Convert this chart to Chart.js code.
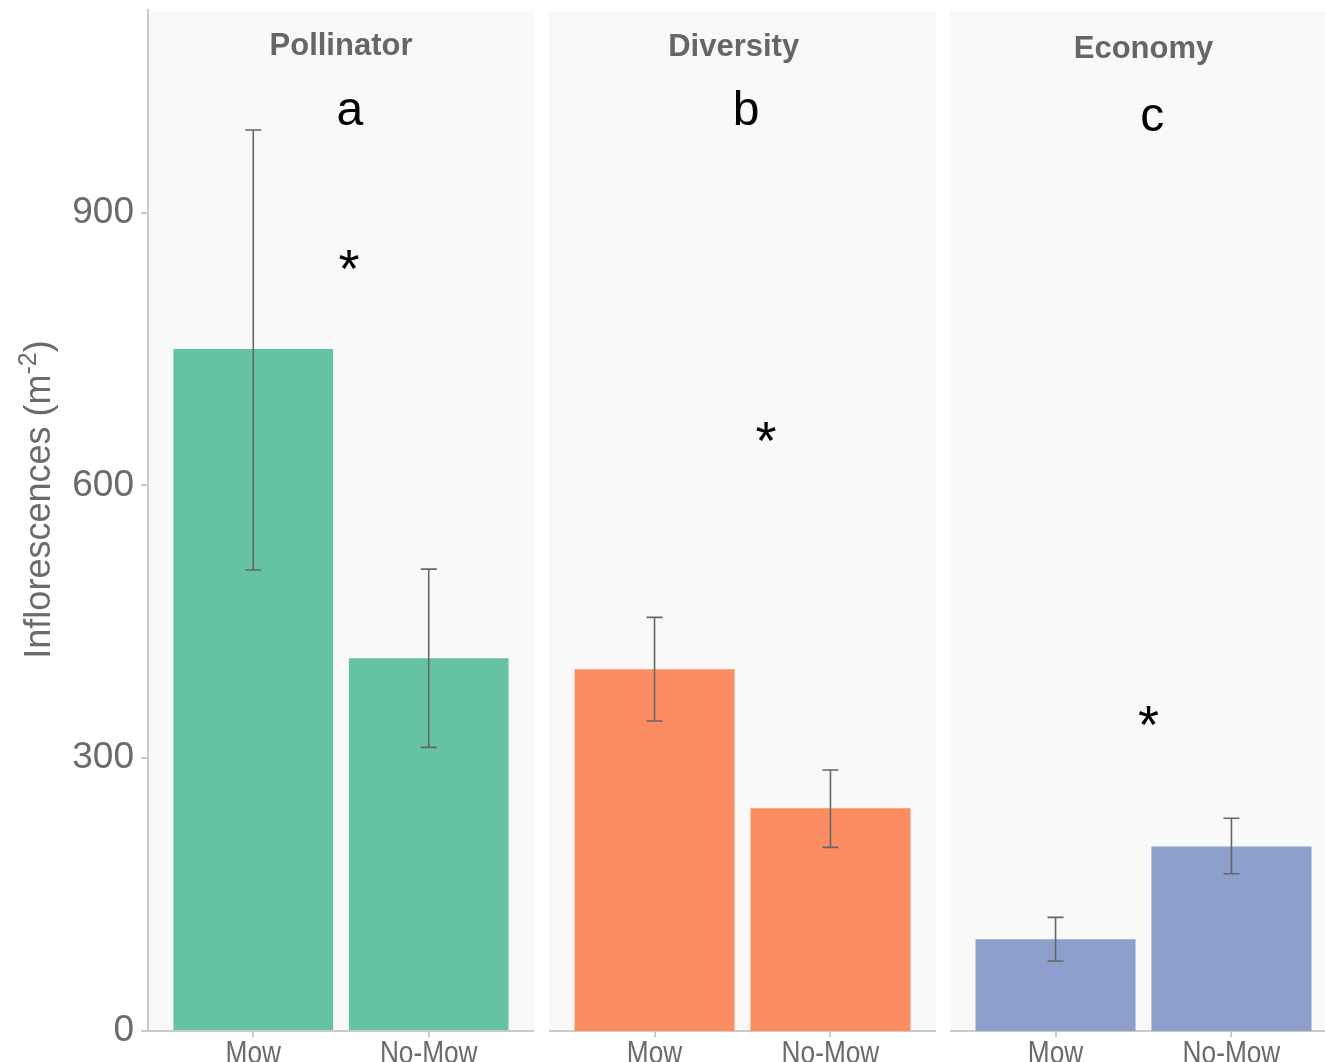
<!DOCTYPE html>
<html>
<head>
<meta charset="utf-8">
<title>Inflorescences by mowing treatment</title>
<script src="https://cdn.jsdelivr.net/npm/chart.js@4.4.1/dist/chart.umd.min.js"></script>
<style>
  html, body { margin: 0; padding: 0; background: #fff; overflow: hidden; }
  #wrap { position: relative; width: 1325px; height: 1062px; overflow: hidden; }
  canvas { position: absolute; top: 0; }
</style>
</head>
<body>
<div id="wrap">
  <canvas id="c0" width="534" height="1062" style="left:0px"></canvas>
  <canvas id="c1" width="387" height="1062" style="left:549px"></canvas>
  <canvas id="c2" width="387" height="1062" style="left:950px"></canvas>
</div>
<script>
// data
const panels = ['Pollinator', 'Diversity', 'Economy'];
const treatments = ['Mow', 'No-Mow'];
const means = [[750, 410], [398, 245], [101, 203]];
const lower = [[507, 312], [341, 202], [77, 173]];
const upper = [[991, 508], [455, 287], [125, 234]];
const colors = ['#66c2a5', '#fc8d62', '#8da0cb'];
const yTicks = [0, 300, 600, 900];
const Y_MAX = 1123;

// annotations (x in treatment units, y in data units)
const letters = ['a', 'b', 'c'];
const letterX = [0.55, 0.52, 0.55];
const letterY = [996, 996, 990];
const starX = [0.546, 0.634, 0.529];
const starY = [818, 629, 317];
const titleX = [0.5, 0.45, 0.5];
const titleY = [1074, 1072, 1070];

const FONT = '"Liberation Sans", Arial, sans-serif';
const GREY = '#6b6b6b';
const AXIS = '#cacaca';

const panelBg = {
  id: 'panelBg',
  beforeDraw(chart) {
    const { ctx, chartArea } = chart;
    ctx.save();
    ctx.fillStyle = '#f9f9f9';
    ctx.fillRect(chartArea.left, chartArea.top + 2, chartArea.width, chartArea.height - 2);
    ctx.restore();
  },
};

const errorBars = {
  id: 'errorBars',
  afterDatasetsDraw(chart) {
    const i = chart.options.panelIndex;
    const { ctx, scales } = chart;
    const meta = chart.getDatasetMeta(0);
    ctx.save();
    ctx.strokeStyle = '#666666';
    ctx.lineWidth = 1.6;
    meta.data.forEach((bar, j) => {
      const yLo = scales.y.getPixelForValue(lower[i][j]);
      const yHi = scales.y.getPixelForValue(upper[i][j]);
      ctx.beginPath();
      ctx.moveTo(bar.x, yLo);
      ctx.lineTo(bar.x, yHi);
      ctx.moveTo(bar.x - 8, yLo);
      ctx.lineTo(bar.x + 8, yLo);
      ctx.moveTo(bar.x - 8, yHi);
      ctx.lineTo(bar.x + 8, yHi);
      ctx.stroke();
    });
    ctx.restore();
  },
};

const labels = {
  id: 'labels',
  afterDraw(chart) {
    const i = chart.options.panelIndex;
    const { ctx, scales, chartArea } = chart;
    ctx.save();
    ctx.textAlign = 'center';
    ctx.textBaseline = 'alphabetic';

    // x tick labels, slightly condensed like the original
    ctx.fillStyle = GREY;
    ctx.font = '32px ' + FONT;
    scales.x.ticks.forEach(t => {
      ctx.save();
      ctx.translate(scales.x.getPixelForValue(t.value), chartArea.bottom + 32);
      ctx.scale(0.82, 1);
      ctx.fillText(treatments[t.value], 0, 0);
      ctx.restore();
    });

    // strip title
    ctx.fillStyle = '#666666';
    ctx.font = 'bold 31px ' + FONT;
    ctx.fillText(panels[i], scales.x.getPixelForValue(titleX[i]), scales.y.getPixelForValue(titleY[i]));

    // significance letter and star
    ctx.fillStyle = '#000000';
    ctx.font = '48px ' + FONT;
    ctx.fillText(letters[i], scales.x.getPixelForValue(letterX[i]), scales.y.getPixelForValue(letterY[i]));
    ctx.font = '54px ' + FONT;
    ctx.fillText('*', scales.x.getPixelForValue(starX[i]), scales.y.getPixelForValue(starY[i]));

    // y axis title, only on first panel
    if (i === 0) {
      const big = '36px ' + FONT, small = '25px ' + FONT;
      const parts = [['Inflorescences (m', big, 0], ['-2', small, -14], [')', big, 0]];
      let total = 0;
      parts.forEach(p => { ctx.font = p[1]; total += ctx.measureText(p[0]).width; });
      ctx.translate(50, (chartArea.top + chartArea.bottom) / 2 - 21);
      ctx.rotate(-Math.PI / 2);
      ctx.textAlign = 'left';
      ctx.fillStyle = GREY;
      let x = -total / 2;
      parts.forEach(p => {
        ctx.font = p[1];
        ctx.fillText(p[0], x, p[2]);
        x += ctx.measureText(p[0]).width;
      });
    }
    ctx.restore();
  },
};

function makePanel(i) {
  const first = i === 0;
  return new Chart(document.getElementById('c' + i), {
    type: 'bar',
    data: {
      datasets: [{
        data: treatments.map((t, j) => ({ x: j, y: means[i][j] })),
        backgroundColor: colors[i],
        borderWidth: 0,
        barPercentage: 0.91,
        categoryPercentage: 1,
      }],
    },
    options: {
      panelIndex: i,
      responsive: false,
      animation: false,
      events: [],
      layout: { padding: { top: 10, left: 0, right: 0, bottom: 0 } },
      plugins: {
        legend: { display: false },
        tooltip: { enabled: false },
      },
      scales: {
        x: {
          type: 'linear',
          offset: false,
          min: -0.6,
          max: 1.6,
          afterBuildTicks: s => { s.ticks = treatments.map((t, j) => ({ value: j })); },
          afterFit: s => { s.height = 31; s.paddingLeft = 0; s.paddingRight = 0; },
          ticks: { display: false, autoSkip: false },
          grid: { offset: false, drawOnChartArea: false, tickLength: 6, color: AXIS, lineWidth: 2 },
          border: { color: AXIS, width: 2 },
        },
        y: {
          display: first,
          min: 0,
          max: Y_MAX,
          afterBuildTicks: s => { s.ticks = yTicks.map(v => ({ value: v })); },
          afterFit: s => { s.width = first ? 148 : 0; s.paddingTop = 0; s.paddingBottom = 0; },
          ticks: {
            color: GREY,
            font: { family: FONT, size: 37 },
            padding: 7,
          },
          grid: { drawOnChartArea: false, tickLength: 7, color: AXIS, lineWidth: 2 },
          border: { color: AXIS, width: 2 },
        },
      },
    },
    plugins: [panelBg, errorBars, labels],
  });
}

panels.forEach((p, i) => makePanel(i));
</script>
</body>
</html>
